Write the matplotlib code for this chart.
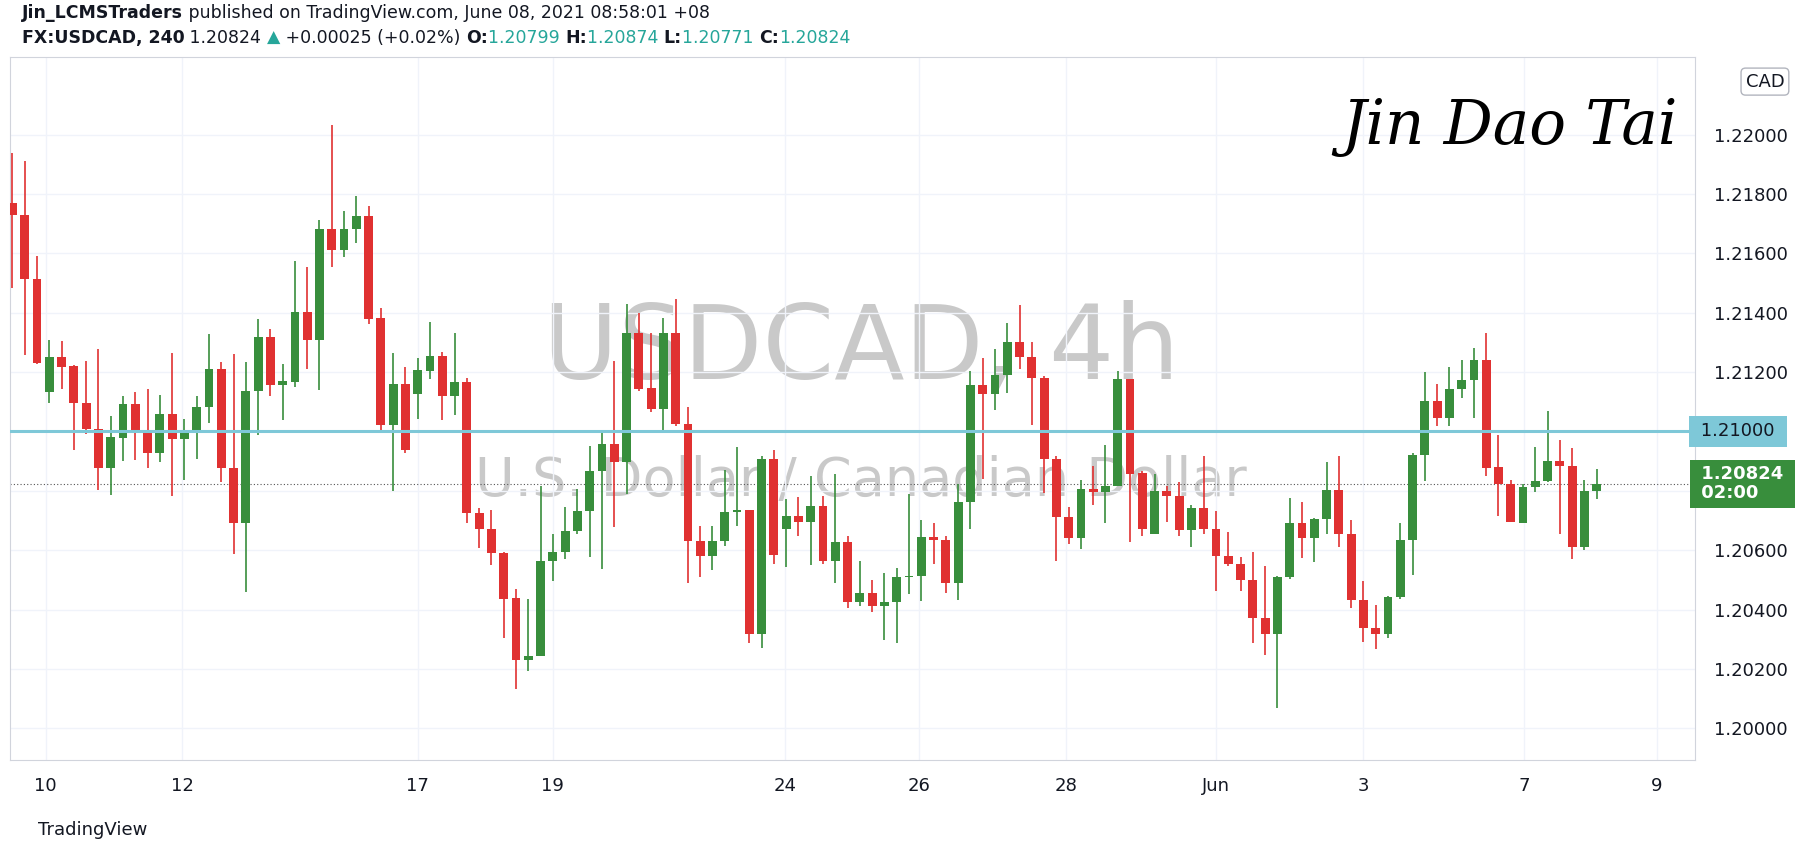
import numpy as np
import matplotlib.pyplot as plt

# 4h USDCAD candles
opens = [1.21770, 1.21729, 1.21514, 1.21134, 1.21251, 1.21221, 1.21097, 1.21010, 1.20877, 1.20978,
         1.21092, 1.20994, 1.20929, 1.21058, 1.20975, 1.21006, 1.21084, 1.21209, 1.20877, 1.20690,
         1.21138, 1.21318, 1.21156, 1.21166, 1.21404, 1.21309, 1.21682, 1.21610, 1.21682, 1.21727,
         1.21381, 1.21021, 1.21160, 1.21127, 1.21205, 1.21255, 1.21118, 1.21166, 1.20727, 1.20673,
         1.20591, 1.20439, 1.20229, 1.20244, 1.20562, 1.20595, 1.20664, 1.20731, 1.20868, 1.20958,
         1.20896, 1.21332, 1.21147, 1.21075, 1.21332, 1.21026, 1.20631, 1.20579, 1.20631, 1.20729,
         1.20734, 1.20319, 1.20909, 1.20673, 1.20716, 1.20696, 1.20748, 1.20562, 1.20627, 1.20426,
         1.20456, 1.20413, 1.20426, 1.20510, 1.20514, 1.20643, 1.20636, 1.20491, 1.20761, 1.21156,
         1.21127, 1.21192, 1.21303, 1.21251, 1.21179, 1.20906, 1.20712, 1.20640, 1.20806, 1.20796,
         1.20816, 1.21177, 1.20861, 1.20656, 1.20800, 1.20783, 1.20669, 1.20742, 1.20673, 1.20582,
         1.20552, 1.20500, 1.20370, 1.20319, 1.20508, 1.20690, 1.20640, 1.20705, 1.20803, 1.20656,
         1.20432, 1.20339, 1.20319, 1.20443, 1.20634, 1.20922, 1.21104, 1.21047, 1.21143, 1.21175,
         1.21242, 1.20881, 1.20822, 1.20692, 1.20813, 1.20832, 1.20900, 1.20884, 1.20612, 1.20799]
highs = [1.21939, 1.21910, 1.21591, 1.21309, 1.21305, 1.21225, 1.21238, 1.21277, 1.21052, 1.21118,
         1.21134, 1.21143, 1.21123, 1.21264, 1.21043, 1.21118, 1.21329, 1.21235, 1.21261, 1.21235,
         1.21378, 1.21344, 1.21227, 1.21575, 1.21553, 1.21714, 1.22032, 1.21744, 1.21794, 1.21760,
         1.21417, 1.21264, 1.21218, 1.21247, 1.21368, 1.21268, 1.21331, 1.21179, 1.20741, 1.20735,
         1.20595, 1.20469, 1.20436, 1.20816, 1.20653, 1.20744, 1.20806, 1.20952, 1.21006, 1.21238,
         1.21430, 1.21400, 1.21331, 1.21381, 1.21445, 1.21082, 1.20682, 1.20682, 1.20871, 1.20949,
         1.20734, 1.20916, 1.20936, 1.20773, 1.20779, 1.20851, 1.20781, 1.20858, 1.20647, 1.20562,
         1.20501, 1.20523, 1.20539, 1.20790, 1.20703, 1.20690, 1.20647, 1.20822, 1.21205, 1.21248,
         1.21279, 1.21365, 1.21426, 1.21300, 1.21186, 1.20919, 1.20744, 1.20835, 1.20884, 1.20955,
         1.21205, 1.21177, 1.20868, 1.20858, 1.20816, 1.20831, 1.20751, 1.20919, 1.20731, 1.20662,
         1.20578, 1.20595, 1.20548, 1.20513, 1.20777, 1.20764, 1.20708, 1.20897, 1.20919, 1.20703,
         1.20495, 1.20417, 1.20445, 1.20690, 1.20929, 1.21201, 1.21160, 1.21218, 1.21242, 1.21281,
         1.21332, 1.20987, 1.20838, 1.20822, 1.20949, 1.21069, 1.20971, 1.20945, 1.20835, 1.20874]
lows = [1.21484, 1.21257, 1.21227, 1.21097, 1.21143, 1.20939, 1.20991, 1.20803, 1.20787, 1.20900,
        1.20903, 1.20878, 1.20896, 1.20781, 1.20835, 1.20906, 1.21030, 1.20829, 1.20586, 1.20458,
        1.20988, 1.21118, 1.21040, 1.21151, 1.21209, 1.21140, 1.21556, 1.21588, 1.21636, 1.21361,
        1.21006, 1.20799, 1.20929, 1.21043, 1.21177, 1.21040, 1.21056, 1.20692, 1.20608, 1.20549,
        1.20303, 1.20131, 1.20192, 1.20242, 1.20497, 1.20569, 1.20653, 1.20578, 1.20536, 1.20677,
        1.20790, 1.21136, 1.21066, 1.21006, 1.21017, 1.20491, 1.20510, 1.20534, 1.20614, 1.20682,
        1.20287, 1.20270, 1.20552, 1.20543, 1.20647, 1.20549, 1.20552, 1.20491, 1.20406, 1.20413,
        1.20391, 1.20296, 1.20287, 1.20452, 1.20430, 1.20553, 1.20456, 1.20432, 1.20673, 1.20839,
        1.21073, 1.21131, 1.21212, 1.21021, 1.20794, 1.20565, 1.20621, 1.20604, 1.20751, 1.20690,
        1.20816, 1.20627, 1.20649, 1.20656, 1.20695, 1.20649, 1.20612, 1.20656, 1.20462, 1.20547,
        1.20461, 1.20287, 1.20248, 1.20069, 1.20504, 1.20575, 1.20560, 1.20656, 1.20612, 1.20404,
        1.20290, 1.20266, 1.20303, 1.20435, 1.20517, 1.20832, 1.21017, 1.21017, 1.21114, 1.21045,
        1.20851, 1.20714, 1.20696, 1.20692, 1.20796, 1.20829, 1.20653, 1.20571, 1.20599, 1.20771]
closes = [1.21729, 1.21514, 1.21230, 1.21251, 1.21218, 1.21095, 1.21008, 1.20877, 1.20981, 1.21092,
          1.21004, 1.20929, 1.21058, 1.20975, 1.21006, 1.21084, 1.21209, 1.20877, 1.20690, 1.21138,
          1.21318, 1.21156, 1.21169, 1.21404, 1.21309, 1.21682, 1.21610, 1.21682, 1.21727, 1.21378,
          1.21021, 1.21160, 1.20936, 1.21208, 1.21255, 1.21118, 1.21166, 1.20727, 1.20673, 1.20591,
          1.20436, 1.20229, 1.20244, 1.20562, 1.20595, 1.20664, 1.20731, 1.20868, 1.20958, 1.20896,
          1.21332, 1.21143, 1.21075, 1.21332, 1.21026, 1.20631, 1.20579, 1.20631, 1.20729, 1.20734,
          1.20319, 1.20909, 1.20584, 1.20716, 1.20696, 1.20748, 1.20562, 1.20627, 1.20426, 1.20456,
          1.20413, 1.20426, 1.20510, 1.20514, 1.20643, 1.20636, 1.20491, 1.20761, 1.21156, 1.21127,
          1.21192, 1.21303, 1.21251, 1.21179, 1.20906, 1.20712, 1.20640, 1.20806, 1.20796, 1.20816,
          1.21177, 1.20858, 1.20673, 1.20800, 1.20781, 1.20669, 1.20742, 1.20673, 1.20582, 1.20552,
          1.20500, 1.20370, 1.20319, 1.20508, 1.20690, 1.20640, 1.20705, 1.20803, 1.20656, 1.20432,
          1.20339, 1.20319, 1.20443, 1.20634, 1.20922, 1.21104, 1.21047, 1.21143, 1.21175, 1.21242,
          1.20878, 1.20822, 1.20696, 1.20813, 1.20832, 1.20900, 1.20884, 1.20612, 1.20800, 1.20824]

date_labels = ['10', '12', '17', '19', '24', '26', '28', 'Jun', '3', '7', '9']
date_pos = [2.7, 13.8, 33.0, 44.0, 62.9, 73.8, 85.8, 98.0, 110.0, 123.1, 133.9]
price_ticks = [1.200, 1.202, 1.204, 1.206, 1.212, 1.214, 1.216, 1.218, 1.220]
hidden_ticks = [1.208, 1.210]  # covered by the price boxes
level = 1.21000
last_price = 1.20824

RED = '#e03131'
GREEN = '#388e3c'
TEAL = '#26a69a'

o = np.array(opens); h = np.array(highs); l = np.array(lows); c = np.array(closes)
x = np.arange(len(o))
up = c >= o
cols = np.where(up, GREEN, RED)

fig = plt.figure(figsize=(18.05, 8.55), dpi=100)
ax = fig.add_axes([10 / 1805, 95 / 855, 1685 / 1805, 703 / 855])

ax.vlines(x, l, h, colors=cols, linewidth=1.2, zorder=3)
body = np.maximum(np.abs(c - o), 0.00003)
ax.bar(x, body, bottom=np.minimum(o, c), width=0.72, color=cols, zorder=4)

ax.set_xlim(-0.2, 137.0)
ax.set_ylim(1.19893, 1.22262)
ax.set_xticks(date_pos)
ax.set_xticklabels(date_labels)
ax.set_yticks(price_ticks + hidden_ticks)
ax.yaxis.tick_right()
ax.set_yticklabels([f'{p:.5f}' for p in price_ticks] + [''] * len(hidden_ticks))
ax.tick_params(axis='both', length=0, labelsize=13, colors='#131722', pad=12)
ax.tick_params(axis='y', pad=14)
ax.grid(True, color='#f0f3fa', linewidth=1, zorder=0)
for s in ax.spines.values():
    s.set_color('#d1d4dc')

# level line and last price
ax.axhline(level, color='#7ec8d8', linewidth=2.2, zorder=5)
ax.axhline(last_price, color='#555555', linewidth=0.8, linestyle=(0, (1, 2)), zorder=2)
ax.text(1.0, level, f' {level:.5f} ', transform=ax.get_yaxis_transform(), va='center', ha='left',
        fontsize=13, color='#131722', zorder=6,
        bbox=dict(boxstyle='square,pad=0.35', fc='#7ec8d8', ec='none'))
ax.text(1.0, last_price, f' {last_price:.5f} \n 02:00', transform=ax.get_yaxis_transform(),
        va='center', ha='left', fontsize=13, color='white', fontweight='bold', zorder=6,
        linespacing=1.1, bbox=dict(boxstyle='square,pad=0.3', fc=GREEN, ec='none'))
ax.text(1.03, 0.965, 'CAD', transform=ax.transAxes, va='center', ha='left', fontsize=13,
        color='#131722', bbox=dict(boxstyle='round,pad=0.25', fc='white', ec='#b2b5be'))

# watermark
ax.text(0.505, 0.582, 'USDCAD, 4h', transform=ax.transAxes, ha='center', va='center',
        fontsize=74, color='#c9c9c9', zorder=1)
ax.text(0.505, 0.397, 'U.S. Dollar / Canadian Dollar', transform=ax.transAxes, ha='center',
        va='center', fontsize=39, color='#c9c9c9', zorder=1)
ax.text(0.89, 0.9, 'Jin Dao Tai', transform=ax.transAxes, ha='center', va='center',
        fontsize=44, style='italic', family='DejaVu Serif', color='black', zorder=6)


def seq_text(pieces, y, x0=0.012, size=12.5):
    r = fig.canvas.get_renderer()
    xx = x0
    for txt, color, bold in pieces:
        t = fig.text(xx, y, txt, fontsize=size, color=color,
                     fontweight='bold' if bold else 'normal', va='center')
        bb = t.get_window_extent(renderer=r)
        xx += bb.width / fig.bbox.width


seq_text([('Jin_LCMSTraders', '#131722', True),
          (' published on TradingView.com, June 08, 2021 08:58:01 +08', '#131722', False)], 1 - 13 / 855)
seq_text([('FX:USDCAD, 240', '#131722', True), (' 1.20824 ', '#131722', False),
          ('▲', TEAL, False), (' +0.00025 (+0.02%) ', '#131722', False),
          ('O:', '#131722', True), ('1.20799 ', TEAL, False), ('H:', '#131722', True),
          ('1.20874 ', TEAL, False), ('L:', '#131722', True), ('1.20771 ', TEAL, False),
          ('C:', '#131722', True), ('1.20824', TEAL, False)], 1 - 38 / 855)
fig.text(0.021, 1 - 830 / 855, 'TradingView', fontsize=13, color='#131722', va='center')

fig.savefig('out.png', dpi=100)
